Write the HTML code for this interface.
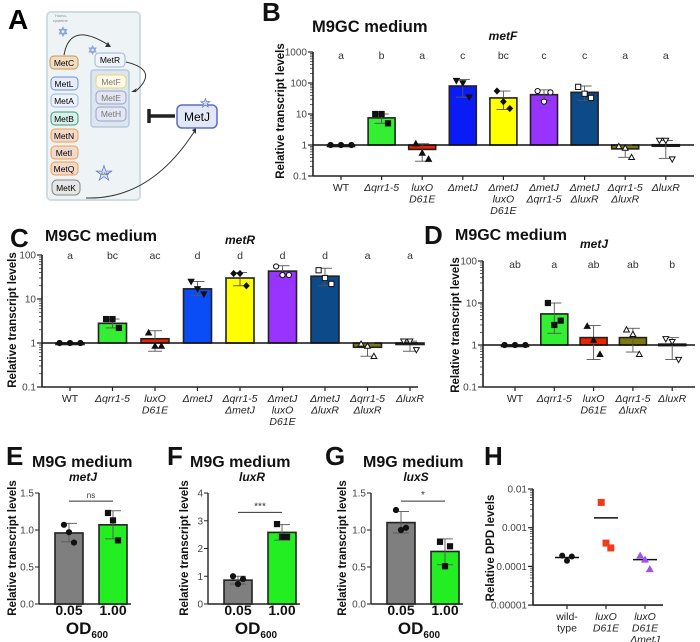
<!DOCTYPE html>
<html><head><meta charset="utf-8"><style>
body{margin:0;background:#fff}
svg{display:block;font-family:"Liberation Sans",Arial,sans-serif}
.t{font-size:10px;fill:#444}
</style></head><body>
<svg id="fig" width="700" height="642" viewBox="0 0 700 642">
<g id="panelA">
<text x="8" y="29" font-size="28" font-weight="bold">A</text>
<rect x="47" y="12" width="93" height="188" rx="4" fill="#eef4f6" stroke="#cfdde3" stroke-width="2"/>
<text x="55" y="17" font-size="4" fill="#888">Homo-</text>
<text x="53" y="22" font-size="4" fill="#888">cysteine</text>
<text x="58" y="36" font-size="12" fill="none" stroke="#8ea6e0" stroke-width="0.8">✡</text>
<text x="88" y="54" font-size="11" fill="none" stroke="#8ea6e0" stroke-width="0.8">✡</text>
<path d="M64 55 Q70 20 110 46" fill="none" stroke="#333" stroke-width="1"/>
<path d="M108 42 L111 47 L105 47Z" fill="#333"/>
<path d="M126 62 Q160 70 135 92" fill="none" stroke="#333" stroke-width="1"/>
<path d="M131 92 L135 92 L137 88Z" fill="#333"/>
<path d="M86 198 Q150 200 194 132" fill="none" stroke="#333" stroke-width="1"/>
<path d="M192 130 L196 134 L196 128Z" fill="#333"/>
<rect x="91" y="70" width="38" height="57" rx="3" fill="#dde6ee" stroke="#b8c8da" stroke-width="1.5"/>
<g font-size="8.5" text-anchor="middle">
<rect x="50" y="56" width="28" height="13" rx="4" fill="#f1dcc0" stroke="#c8965a"/><text x="64" y="66">MetC</text>
<rect x="51" y="77" width="27" height="13" rx="4" fill="#e6ecf9" stroke="#6c8fd3"/><text x="64" y="87">MetL</text>
<rect x="51" y="94" width="27" height="13" rx="4" fill="#eef2fb" stroke="#9fb4dc"/><text x="64" y="104">MetA</text>
<rect x="51" y="112" width="27" height="13" rx="4" fill="#d9efe9" stroke="#3a9a80"/><text x="64" y="122">MetB</text>
<rect x="51" y="129" width="27" height="13" rx="4" fill="#f1d9cb" stroke="#f0a050"/><text x="64" y="139">MetN</text>
<rect x="51" y="146" width="27" height="13" rx="4" fill="#f1d9cb" stroke="#f0a050"/><text x="64" y="156">MetI</text>
<rect x="51" y="162" width="27" height="13" rx="4" fill="#f1d9cb" stroke="#f0a050"/><text x="64" y="172">MetQ</text>
<rect x="52" y="180" width="28" height="15" rx="5" fill="#e6e6e6" stroke="#888"/><text x="66" y="191">MetK</text>
<rect x="95" y="53" width="30" height="14" rx="4" fill="#f0f4fb" stroke="#9fb4dc"/><text x="110" y="63">MetR</text>
<rect x="96" y="75" width="30" height="13" rx="4" fill="#fdf9e6" stroke="#e8d680"/><text x="111" y="85" fill="#777">MetF</text>
<rect x="96" y="91" width="30" height="13" rx="4" fill="#e3e6f3" stroke="#9aa0cc"/><text x="111" y="101" fill="#777">MetE</text>
<rect x="96" y="107" width="30" height="14" rx="4" fill="#e3e6f3" stroke="#9aa0cc"/><text x="111" y="117" fill="#777">MetH</text>
<rect x="177" y="105" width="40" height="23" rx="5" fill="#e3e8f8" stroke="#5a6ec8" stroke-width="1.5"/><text x="197" y="121" font-size="12">MetJ</text>
</g>
<text x="200" y="107" font-size="12" fill="#cfd8f4" stroke="#5a6ec8" stroke-width="0.6">★</text>
<text x="95" y="180" font-size="20" fill="#d8e0f4" stroke="#5a6ec8" stroke-width="0.7">★</text>
<text x="101" y="175" font-size="3.5" fill="#333">SAM</text>
<line x1="150" y1="116" x2="175" y2="116" stroke="#222" stroke-width="3.5"/>
<line x1="149" y1="109" x2="149" y2="123" stroke="#222" stroke-width="3.5"/>
</g>
<g id="charts"></g>
</svg>
<script>
// ---------- DATA ----------
const bCats = [["WT"],["Δqrr1-5"],["luxO","D61E"],["ΔmetJ"],["ΔmetJ","luxO","D61E"],["ΔmetJ","Δqrr1-5"],["ΔmetJ","ΔluxR"],["Δqrr1-5","ΔluxR"],["ΔluxR"]];
const bMeans = [1, 7.5, 0.72, 80, 33, 42, 50, 0.75, 1.02];
const bPoints = [[1,1,1],[10,10,5],[1.1,0.55,0.35],[120,100,35],[55,25,15],[55,25,50],[75,45,33],[0.9,0.8,0.4],[1.4,1.4,0.35]];
const bLow = [1,5,0.3,35,14,27,27,0.4,0.37];
const bHigh = [1,10,1.1,130,55,60,80,1.0,1.4];
const bLetters = ["a","b","a","c","bc","c","c","a","a"];

const cCats = [["WT"],["Δqrr1-5"],["luxO","D61E"],["ΔmetJ"],["Δqrr1-5","ΔmetJ"],["ΔmetJ","luxO","D61E"],["ΔmetJ","ΔluxR"],["Δqrr1-5","ΔluxR"],["ΔluxR"]];
const cMeans = [1, 2.8, 1.25, 17, 30, 43, 33, 0.8, 1.0];
const cPoints = [[1,1,1],[3.5,3.5,2.2],[1.7,0.85,0.85],[25,17,13],[38,38,20],[55,35,35],[45,30,22],[0.95,0.85,0.5],[1.1,1.1,0.7]];
const cLow = [1,2.2,0.65,12,20,33,20,0.5,0.65];
const cHigh = [1,3.5,1.9,25,40,57,50,1.0,1.1];
const cLetters = ["a","bc","ac","d","d","d","d","a","a"];

const dCats = [["WT"],["Δqrr1-5"],["luxO","D61E"],["Δqrr1-5","ΔluxR"],["ΔluxR"]];
const dMeans = [1, 5.5, 1.5, 1.5, 1.05];
const dPoints = [[1,1,1],[10,3,3.8],[2.8,1.3,0.6],[2.3,1.8,0.6],[1.4,1.2,0.45]];
const dLow = [1,1.9,0.45,0.68,0.45];
const dHigh = [1,10,2.9,2.5,1.5];
const dLetters = ["ab","a","ab","ab","b"];

const odCats = ["0.05","1.00"];
const eMeans = [0.96, 1.07];
const ePoints = [[1.07,0.97,0.83],[1.23,1.13,0.86]];
const eLow = [0.84, 0.88];
const eHigh = [1.09, 1.26];
const fMeans = [0.86, 2.58];
const fPoints = [[1.0,0.72,0.9],[2.88,2.42,2.42]];
const fLow = [0.72, 2.3];
const fHigh = [1.0, 2.86];
const gMeans = [1.1, 0.71];
const gPoints = [[1.27,1.0,1.03],[0.84,0.51,0.78]];
const gLow = [0.96, 0.53];
const gHigh = [1.25, 0.88];

const hCats = [["wild-","type"],["luxO","D61E"],["luxO","D61E","ΔmetJ"]];
const hMeans = [0.00017, 0.0018, 0.00015];
const hPoints = [[0.00019,0.00014,0.00018],[0.0045,0.0004,0.0003],[0.00019,0.00015,0.000085]];
const hTicks = ["0.01","0.001","0.0001","0.00001"];

// ---------- DRAWING ----------
const NS="http://www.w3.org/2000/svg";
const root=document.getElementById('charts');
function el(tag,attrs,parent,text){const e=document.createElementNS(NS,tag);for(const k in attrs)e.setAttribute(k,attrs[k]);if(text!==undefined)e.textContent=text;(parent||root).appendChild(e);return e;}

function marker(g,shape,x,y,filled){
  const f=filled?'#111':'#fff';const s={stroke:'#111','stroke-width':1,fill:f};let m;
  if(shape==='c')m=el('circle',Object.assign({cx:x,cy:y,r:2.6},s),g);
  else if(shape==='s')m=el('rect',Object.assign({x:x-2.6,y:y-2.6,width:5.2,height:5.2},s),g);
  else if(shape==='tu')m=el('path',Object.assign({d:`M${x} ${y-3}L${x+2.9} ${y+2.2}L${x-2.9} ${y+2.2}Z`},s),g);
  else if(shape==='td')m=el('path',Object.assign({d:`M${x} ${y+3}L${x+2.9} ${y-2.2}L${x-2.9} ${y-2.2}Z`},s),g);
  else m=el('path',Object.assign({d:`M${x} ${y-2.9}L${x+2.7} ${y}L${x} ${y+2.9}L${x-2.7} ${y}Z`},s),g);
  
  
}

function yTitle(x,cy,txt,name){
  const t=el('text',{x:x,y:cy,transform:`rotate(-90 ${x} ${cy})`,'text-anchor':'middle','font-size':11.5,'font-weight':'bold',fill:'#111'},root,txt);
  
  
}

function logChart(o){
  const g=el('g',{});
  
  
  const y=v=>o.y1-o.dec*Math.log10(v);
  const xc=i=>o.cx0+i*o.sp;
  const yBot=y(Math.pow(10,o.minE));
  el('line',{x1:o.x0,y1:y(Math.pow(10,o.maxE)),x2:o.x0,y2:yBot,stroke:'#222','stroke-width':1.6},g);
  for(let e=o.minE;e<=o.maxE;e++){
    const v=Math.pow(10,e);
    el('line',{x1:o.x0-5,y1:y(v),x2:o.x0,y2:y(v),stroke:'#222','stroke-width':1.2},g);
    const lab=el('text',{x:o.x0-6,y:y(v)+3.5,'text-anchor':'end',class:'t'},g,o.tickLab?o.tickLab[o.maxE-e]:String(v));
    
    
    if(e<o.maxE)for(let k=2;k<10;k++)el('line',{x1:o.x0-3,y1:y(v*k),x2:o.x0,y2:y(v*k),stroke:'#222','stroke-width':0.7},g);
  }
  el('line',{x1:o.x0,y1:yBot,x2:o.xEnd,y2:yBot,stroke:'#222','stroke-width':1.6},g);
  o.cats.forEach((c,i)=>{
    el('line',{x1:xc(i),y1:yBot,x2:xc(i),y2:yBot+4,stroke:'#222','stroke-width':1.2},g);
    c.forEach((ln,j)=>{
      const t=el('text',{x:xc(i),y:yBot+15+j*11.5,'text-anchor':'middle','font-size':10.5,'font-style':(ln==='WT'||ln==='wild-'||ln==='type')?'normal':'italic',fill:'#222'},g,ln);
      
      
    });
  });
  if(o.bars){
    o.means.forEach((m,i)=>{
      const y0=y(1),ym=y(m);
      const r=el('rect',{x:xc(i)-o.bw/2,y:Math.min(y0,ym),width:o.bw,height:Math.max(Math.abs(y0-ym),1.5),fill:o.colors[i],stroke:'#222','stroke-width':1.6},g);
      
      
    });
    el('line',{x1:o.x0,y1:y(1),x2:o.xEnd,y2:y(1),stroke:'#111','stroke-width':1.6},g);
    o.means.forEach((m,i)=>{
      if(o.low[i]===o.high[i])return;
      el('line',{x1:xc(i),y1:y(o.low[i]),x2:xc(i),y2:y(o.high[i]),stroke:'#555','stroke-width':0.9},g);
      el('line',{x1:xc(i)-7,y1:y(o.low[i]),x2:xc(i)+7,y2:y(o.low[i]),stroke:'#555','stroke-width':0.9},g);
      el('line',{x1:xc(i)-7,y1:y(o.high[i]),x2:xc(i)+7,y2:y(o.high[i]),stroke:'#555','stroke-width':0.9},g);
    });
    o.letters.forEach((L,i)=>{
      const t=el('text',{x:xc(i),y:o.letY,'text-anchor':'middle','font-size':10.5,fill:'#333'},g,L);
      
      
    });
  } else {
    o.means.forEach((m,i)=>{
      el('line',{x1:xc(i)-12,y1:y(m),x2:xc(i)+12,y2:y(m),stroke:'#111','stroke-width':1.5},g);
    });
  }
  const offs=[-8,0,8];
  o.points.forEach((ps,i)=>ps.forEach((p,j)=>{
    if(o.customMarker){o.customMarker(g,i,xc(i)+offs[j]*0.6,y(p));}
    else marker(g,o.shapes[i],xc(i)+offs[j]*(i===0?1.3:0.8),y(p),o.filled[i]);
  }));
}

function linChart(o){
  const g=el('g',{});
  
  
  const yTop=493,yBot=604;
  const y=v=>yBot-(yBot-yTop)*v/o.yMax;
  const xc=i=>o.x0+30+i*44;
  el('line',{x1:o.x0,y1:yTop,x2:o.x0,y2:yBot,stroke:'#222','stroke-width':1.4},g);
  o.ticks.forEach((tv,k)=>{
    el('line',{x1:o.x0-4,y1:y(tv),x2:o.x0,y2:y(tv),stroke:'#222','stroke-width':1},g);
    const t=el('text',{x:o.x0-5,y:y(tv)+3.5,'text-anchor':'end',class:'t'},g,o.tickLab[k]);
    
    
  });
  el('line',{x1:o.x0,y1:yBot,x2:o.x0+92,y2:yBot,stroke:'#222','stroke-width':1.4},g);
  const cols=['#7f7f7f','#22ee22'];
  o.means.forEach((m,i)=>{
    const r=el('rect',{x:xc(i)-14,y:y(m),width:28,height:yBot-y(m),fill:cols[i],stroke:'#222','stroke-width':1.6},g);
    
    
    el('line',{x1:xc(i),y1:y(o.low[i]),x2:xc(i),y2:y(o.high[i]),stroke:'#555','stroke-width':0.9},g);
    [o.low[i],o.high[i]].forEach(v=>el('line',{x1:xc(i)-8,y1:y(v),x2:xc(i)+8,y2:y(v),stroke:'#555','stroke-width':0.9},g));
    const t=el('text',{x:xc(i),y:615,'text-anchor':'middle','font-size':14,'font-weight':'bold',fill:'#111'},g,odCats[i]);
    
    
  });
  const offs=[-5,0,5];
  o.points.forEach((ps,i)=>ps.forEach((p,j)=>marker(g,i===0?'c':'s',xc(i)+offs[j],y(p),true)));
  el('line',{x1:xc(0),y1:y(o.brY),x2:xc(1),y2:y(o.brY),stroke:'#333','stroke-width':1},g);
  const s=el('text',{x:(xc(0)+xc(1))/2,y:y(o.brY)-3,'text-anchor':'middle','font-size':o.sig==='ns'?8:10,fill:'#333'},g,o.sig);
  
  
  const od=el('text',{x:(xc(0)+xc(1))/2-4,y:634,'text-anchor':'middle','font-size':17,'font-weight':'bold',fill:'#111'},g);
  
  
  od.appendChild(document.createTextNode('OD'));
  el('tspan',{'font-size':10,dy:4},od,'600');
}

function header(letter,lx,ly,title,tx,ty,gene,gx,gy,fs){
  el('text',{x:lx,y:ly,'font-size':26,'font-weight':'bold',fill:'#111',},root,letter);
  el('text',{x:tx,y:ty,'font-size':fs||16,'font-weight':'bold',fill:'#111',},root,title);
  el('text',{x:gx,y:gy,'text-anchor':'middle','font-size':12,'font-weight':'bold','font-style':'italic',fill:'#111',},root,gene);
}

const colB=['none','#33ee33','#ee2200','#0a1cf5','#ffff00','#9933ff','#0d4a8a','#7a7a10','#ffffff'];
const colC=['none','#33ee33','#ee2200','#0a4cf5','#ffff00','#9933ff','#0d4a8a','#7a7a10','#ffffff'];
const colD=['none','#33ee33','#ee2200','#7a7a10','#ffffff'];

header('B',262,21,'M9GC medium',312,32,'metF',503,40,16.5);
yTitle(284,111,'Relative transcript levels','y-axis-title-b');
logChart({name:'chart-b-metf',x0:313,xEnd:694,y1:145,dec:31,minE:-1,maxE:3,cx0:341,sp:40.6,bw:27,bars:true,cats:bCats,means:bMeans,points:bPoints,low:bLow,high:bHigh,letters:bLetters,letY:59,colors:colB,
 shapes:['c','s','tu','td','d','c','s','tu','td'],filled:[1,1,1,1,1,0,0,0,0]});

header('C',10,247,'M9GC medium',45,241,'metR',240,244);
yTitle(16,320,'Relative transcript levels','y-axis-title-c');
logChart({name:'chart-c-metr',x0:42,xEnd:418,y1:343,dec:44,minE:-1,maxE:2,cx0:70,sp:42.5,bw:28,bars:true,cats:cCats,means:cMeans,points:cPoints,low:cLow,high:cHigh,letters:cLetters,letY:259,colors:colC,
 shapes:['c','s','tu','td','d','c','s','tu','td'],filled:[1,1,1,1,1,0,0,0,0]});

header('D',424,244,'M9GC medium',455,240,'metJ',594,248);
yTitle(459,325,'Relative transcript levels','y-axis-title-d');
logChart({name:'chart-d-metj',x0:483,xEnd:695,y1:345,dec:42,minE:-1,maxE:2,cx0:515,sp:39.3,bw:27,bars:true,cats:dCats,means:dMeans,points:dPoints,low:dLow,high:dHigh,letters:dLetters,letY:268,colors:colD,
 shapes:['c','s','tu','tu','td'],filled:[1,1,1,0,0]});

header('E',6,465,'M9G medium',32,467,'metJ',83,481);
yTitle(16,548,'Relative transcript levels','y-axis-title-e');
linChart({name:'chart-e-metj',x0:39,yMax:1.5,ticks:[0,0.5,1,1.5],tickLab:['0.0','0.5','1.0','1.5'],means:eMeans,points:ePoints,low:eLow,high:eHigh,brY:1.39,sig:'ns'});

header('F',167,465,'M9G medium',190,467,'luxR',252,481);
yTitle(188,548,'Relative transcript levels','y-axis-title-f');
linChart({name:'chart-f-luxr',x0:208,yMax:4,ticks:[0,1,2,3,4],tickLab:['0','1','2','3','4'],means:fMeans,points:fPoints,low:fLow,high:fHigh,brY:3.3,sig:'***'});

header('G',325,465,'M9G medium',363,467,'luxS',416,481);
yTitle(346,548,'Relative transcript levels','y-axis-title-g');
linChart({name:'chart-g-luxs',x0:371,yMax:1.5,ticks:[0,0.5,1,1.5],tickLab:['0.0','0.5','1.0','1.5'],means:gMeans,points:gPoints,low:gLow,high:gHigh,brY:1.39,sig:'*'});

el('text',{x:484,y:465,'font-size':26,'font-weight':'bold',fill:'#111',},root,'H');
yTitle(494,548,'Relative DPD levels','y-axis-title-h');
logChart({name:'chart-h-dpd',x0:533,xEnd:663,y1:489-38.7*2,dec:38.7,minE:-5,maxE:-2,cx0:567,sp:39,bars:false,cats:hCats,means:hMeans,points:hPoints,tickLab:hTicks,
 customMarker:(g,i,x,yv)=>{
   let m;
   if(i===0)m=el('circle',{cx:x,cy:yv,r:3,fill:'#111'},g);
   else if(i===1)m=el('rect',{x:x-3.5,y:yv-3.5,width:7,height:7,fill:'#f03a1a'},g);
   else m=el('path',{d:`M${x} ${yv-4}L${x+4} ${yv+3}L${x-4} ${yv+3}Z`,fill:'#a050f0'},g);
   
   
 }});
</script>
</body></html>
